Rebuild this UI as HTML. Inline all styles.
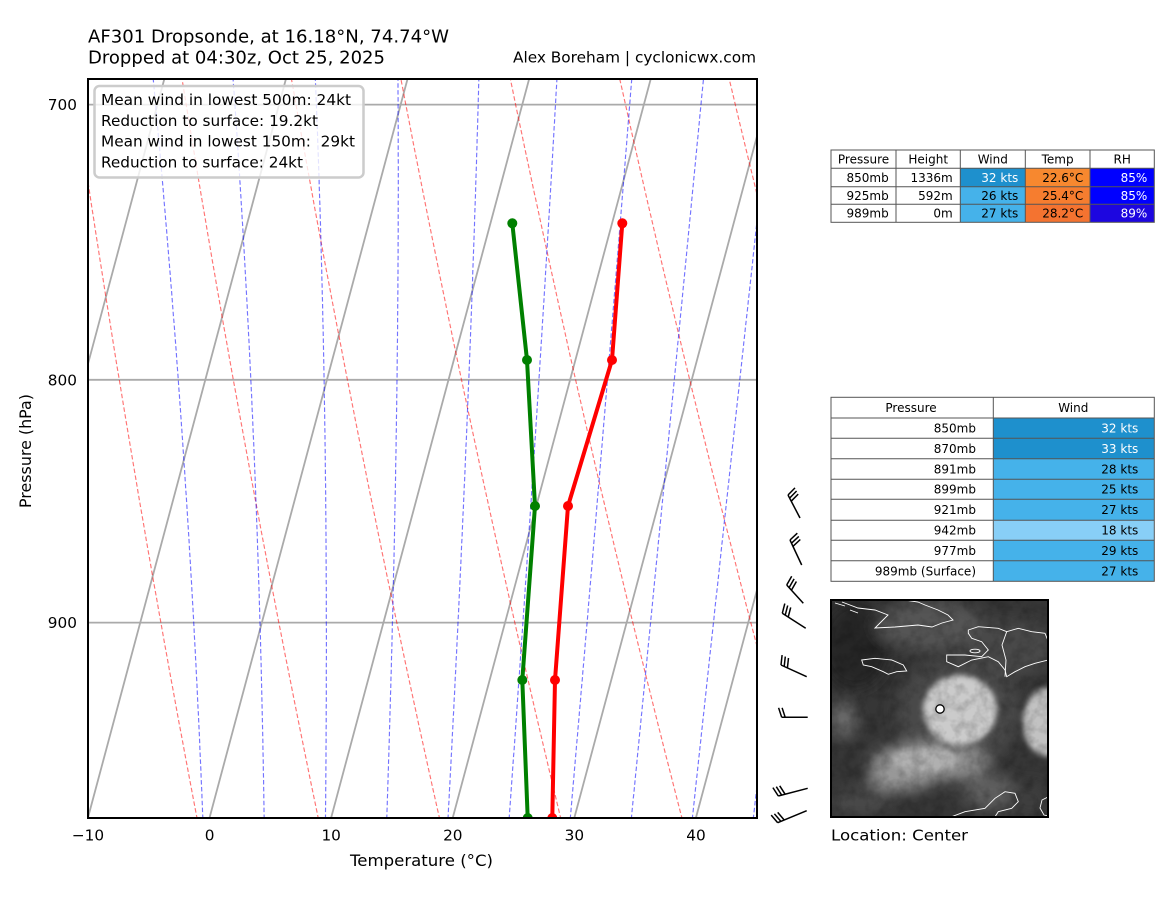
<!DOCTYPE html>
<html>
<head>
<meta charset="utf-8">
<style>
html,body{margin:0;padding:0;background:#fff;}
svg{display:block;}
text{font-family:"DejaVu Sans","Liberation Sans",sans-serif;fill:#000;}
</style>
</head>
<body>
<svg id="root" width="1174" height="897" viewBox="0 0 1174 897" xmlns="http://www.w3.org/2000/svg">
<defs>
<clipPath id="pc"><rect x="88" y="79" width="669" height="739"/></clipPath>
<clipPath id="sc"><rect x="831" y="600" width="217" height="217"/></clipPath>
<filter id="bl" x="-50%" y="-50%" width="200%" height="200%"><feGaussianBlur stdDeviation="7"/></filter>
<filter id="bl2" x="-50%" y="-50%" width="200%" height="200%"><feGaussianBlur stdDeviation="3"/></filter>
<filter id="noise" x="0" y="0" width="100%" height="100%">
  <feTurbulence type="fractalNoise" baseFrequency="0.09" numOctaves="3" seed="4"/>
  <feColorMatrix type="matrix" values="0 0 0 0 0  0 0 0 0 0  0 0 0 0 0  0 0 0 -1.6 1.0"/>
</filter>
</defs>
<rect width="1174" height="897" fill="#fff"/>

<!-- Titles -->
<text x="88" y="42.5" font-size="17.5" textLength="361" lengthAdjust="spacingAndGlyphs">AF301 Dropsonde, at 16.18°N, 74.74°W</text>
<text x="88" y="63.5" font-size="17.5" textLength="297" lengthAdjust="spacingAndGlyphs">Dropped at 04:30z, Oct 25, 2025</text>
<text x="756" y="62.5" font-size="15" text-anchor="end" textLength="243" lengthAdjust="spacingAndGlyphs">Alex Boreham | cyclonicwx.com</text>

<!-- Plot area -->
<g clip-path="url(#pc)">
  <g stroke="#aaaaaa" stroke-width="1.8" fill="none">
    <line x1="88" y1="104.6" x2="757" y2="104.6"/>
    <line x1="88" y1="379.8" x2="757" y2="379.8"/>
    <line x1="88" y1="622.6" x2="757" y2="622.6"/>
    <line x1="-35.6" y1="825" x2="166.2" y2="72"/>
    <line x1="86" y1="825" x2="287.8" y2="72"/>
    <line x1="207.6" y1="825" x2="409.4" y2="72"/>
    <line x1="329.2" y1="825" x2="531" y2="72"/>
    <line x1="450.8" y1="825" x2="652.6" y2="72"/>
    <line x1="572.4" y1="825" x2="774.2" y2="72"/>
    <line x1="694" y1="825" x2="895.8" y2="72"/>
  </g>
  <g id="bg"></g>
  <polyline points="622.3,223.3 612,360 568,506 555,680 552.3,818" fill="none" stroke="#ff0000" stroke-width="4" stroke-linejoin="round"/>
  <polyline points="512.3,223.3 527,360 535,506 522.3,680 527.7,818" fill="none" stroke="#008000" stroke-width="4" stroke-linejoin="round"/>
  <g fill="#ff0000">
    <circle cx="622.3" cy="223.3" r="5"/><circle cx="612" cy="360" r="5"/><circle cx="568" cy="506" r="5"/><circle cx="555" cy="680" r="5"/><circle cx="552.3" cy="818" r="5"/>
  </g>
  <g fill="#008000">
    <circle cx="512.3" cy="223.3" r="5"/><circle cx="527" cy="360" r="5"/><circle cx="535" cy="506" r="5"/><circle cx="522.3" cy="680" r="5"/><circle cx="527.7" cy="818" r="5"/>
  </g>
</g>

<!-- Legend box -->
<rect x="94.5" y="86" width="269" height="91.5" rx="5" ry="5" fill="#ffffff" fill-opacity="0.8" stroke="#cccccc" stroke-width="2.5"/>
<text x="101" y="105" font-size="15.3" textLength="250" lengthAdjust="spacingAndGlyphs">Mean wind in lowest 500m: 24kt</text>
<text x="101" y="126" font-size="15.3" textLength="217" lengthAdjust="spacingAndGlyphs">Reduction to surface: 19.2kt</text>
<text x="101" y="146.7" font-size="15.3" textLength="254" lengthAdjust="spacingAndGlyphs">Mean wind in lowest 150m: &#160;29kt</text>
<text x="101" y="167.7" font-size="15.3" textLength="202" lengthAdjust="spacingAndGlyphs">Reduction to surface: 24kt</text>

<!-- Frame -->
<rect x="88" y="79" width="669" height="739" fill="none" stroke="#000" stroke-width="2"/>

<!-- Tick labels -->
<g font-size="15.3">
  <text x="77" y="110.2" text-anchor="end">700</text>
  <text x="77" y="385.4" text-anchor="end">800</text>
  <text x="77" y="628.2" text-anchor="end">900</text>
  <text x="88" y="840.5" text-anchor="middle">−10</text>
  <text x="209.6" y="840.5" text-anchor="middle">0</text>
  <text x="331.2" y="840.5" text-anchor="middle">10</text>
  <text x="452.8" y="840.5" text-anchor="middle">20</text>
  <text x="574.4" y="840.5" text-anchor="middle">30</text>
  <text x="696" y="840.5" text-anchor="middle">40</text>
</g>
<text x="421.5" y="866" font-size="15.8" text-anchor="middle" textLength="143" lengthAdjust="spacingAndGlyphs">Temperature (°C)</text>
<text transform="translate(31,451) rotate(-90)" font-size="15.8" text-anchor="middle" textLength="114" lengthAdjust="spacingAndGlyphs">Pressure (hPa)</text>

<!-- Wind barbs -->
<g stroke="#000" stroke-width="1.5" fill="none" stroke-linecap="butt">
  <line x1="800" y1="518" x2="788" y2="495"/>
  <line x1="788" y1="495" x2="795" y2="487.9"/><line x1="789.6" y1="498.1" x2="796.6" y2="491"/><line x1="791.2" y1="501.2" x2="798.2" y2="494.1"/>
  <line x1="801.7" y1="565" x2="790" y2="540"/>
  <line x1="790" y1="540" x2="797.3" y2="533.2"/><line x1="791.5" y1="543.2" x2="798.8" y2="536.4"/><line x1="793" y1="546.3" x2="800.3" y2="539.5"/>
  <line x1="803.3" y1="603.3" x2="786.7" y2="585"/>
  <line x1="786.7" y1="585" x2="791.7" y2="576.3"/><line x1="789.1" y1="587.6" x2="794.1" y2="578.9"/><line x1="791.4" y1="590.2" x2="796.4" y2="581.5"/>
  <line x1="805.7" y1="628.3" x2="782.3" y2="613.3"/>
  <line x1="782.3" y1="613.3" x2="784.8" y2="603.6"/><line x1="785.2" y1="615.2" x2="787.7" y2="605.5"/><line x1="788.2" y1="617.1" x2="790.7" y2="607.4"/>
  <line x1="806.7" y1="676.7" x2="781" y2="665"/>
  <line x1="781" y1="665" x2="782.1" y2="655.1"/><line x1="784.2" y1="666.5" x2="785.3" y2="656.6"/><line x1="787.4" y1="667.9" x2="788.5" y2="658"/>
  <line x1="807.7" y1="717.3" x2="781.7" y2="717.3"/>
  <line x1="781.7" y1="717.3" x2="778.6" y2="707.8"/><line x1="785.2" y1="717.3" x2="782.1" y2="707.8"/>
  <line x1="807.7" y1="788.3" x2="778.3" y2="796"/>
  <line x1="778.3" y1="796" x2="772.9" y2="787.6"/><line x1="781.7" y1="795.1" x2="776.3" y2="786.7"/><line x1="785.1" y1="794.2" x2="779.7" y2="785.8"/>
  <line x1="806.7" y1="810.7" x2="777.7" y2="822.7"/>
  <line x1="777.7" y1="822.7" x2="771.2" y2="815.1"/><line x1="780.9" y1="821.4" x2="774.4" y2="813.8"/><line x1="784.2" y1="820" x2="777.7" y2="812.4"/>
</g>

<!-- Table 1 -->
<g>
  <rect x="960.3" y="168.3" width="65" height="18.4" fill="#1e90cd"/>
  <rect x="960.3" y="186.7" width="65" height="35.6" fill="#45b2ea"/>
  <rect x="1025.3" y="168.3" width="64.7" height="18.4" fill="#f7882f"/>
  <rect x="1025.3" y="186.7" width="64.7" height="17.6" fill="#f67d2f"/>
  <rect x="1025.3" y="204.3" width="64.7" height="18" fill="#f47330"/>
  <rect x="1090" y="168.3" width="64.3" height="36" fill="#0000ff"/>
  <rect x="1090" y="204.3" width="64.3" height="18" fill="#1d06e0"/>
  <g stroke="#555" stroke-width="1" fill="none">
    <rect x="831" y="150" width="323.3" height="72.3"/>
    <line x1="831" y1="168.3" x2="1154.3" y2="168.3"/>
    <line x1="831" y1="186.7" x2="1154.3" y2="186.7"/>
    <line x1="831" y1="204.3" x2="1154.3" y2="204.3"/>
    <line x1="896" y1="150" x2="896" y2="222.3"/>
    <line x1="960.3" y1="150" x2="960.3" y2="222.3"/>
    <line x1="1025.3" y1="150" x2="1025.3" y2="222.3"/>
    <line x1="1090" y1="150" x2="1090" y2="222.3"/>
  </g>
  <g font-size="12" text-anchor="middle">
    <text x="863.5" y="163.5">Pressure</text>
    <text x="928.2" y="163.5">Height</text>
    <text x="992.8" y="163.5">Wind</text>
    <text x="1057.6" y="163.5">Temp</text>
    <text x="1122.2" y="163.5">RH</text>
  </g>
  <g font-size="12" text-anchor="end">
    <text x="888.7" y="181.8">850mb</text>
    <text x="952.7" y="181.8">1336m</text>
    <text x="1018.3" y="181.8" style="fill:#fff">32 kts</text>
    <text x="1083.3" y="181.8">22.6°C</text>
    <text x="1147.3" y="181.8" style="fill:#fff">85%</text>
    <text x="888.7" y="199.8">925mb</text>
    <text x="952.7" y="199.8">592m</text>
    <text x="1018.3" y="199.8">26 kts</text>
    <text x="1083.3" y="199.8">25.4°C</text>
    <text x="1147.3" y="199.8" style="fill:#fff">85%</text>
    <text x="888.7" y="217.6">989mb</text>
    <text x="952.7" y="217.6">0m</text>
    <text x="1018.3" y="217.6">27 kts</text>
    <text x="1083.3" y="217.6">28.2°C</text>
    <text x="1147.3" y="217.6" style="fill:#fff">89%</text>
  </g>
</g>

<!-- Table 2 -->
<g>
  <rect x="993.3" y="418" width="161" height="40.7" fill="#1e90cd"/>
  <rect x="993.3" y="458.7" width="161" height="61.6" fill="#45b2ea"/>
  <rect x="993.3" y="520.3" width="161" height="20" fill="#88cff7"/>
  <rect x="993.3" y="540.3" width="161" height="41" fill="#45b2ea"/>
  <g stroke="#555" stroke-width="1" fill="none">
    <rect x="831" y="397.3" width="323.3" height="184"/>
    <line x1="831" y1="418" x2="1154.3" y2="418"/>
    <line x1="831" y1="438.3" x2="1154.3" y2="438.3"/>
    <line x1="831" y1="458.7" x2="1154.3" y2="458.7"/>
    <line x1="831" y1="479.3" x2="1154.3" y2="479.3"/>
    <line x1="831" y1="499.3" x2="1154.3" y2="499.3"/>
    <line x1="831" y1="520.3" x2="1154.3" y2="520.3"/>
    <line x1="831" y1="540.3" x2="1154.3" y2="540.3"/>
    <line x1="831" y1="560.7" x2="1154.3" y2="560.7"/>
    <line x1="993.3" y1="397.3" x2="993.3" y2="581.3"/>
  </g>
  <g font-size="12" text-anchor="middle">
    <text x="911" y="412">Pressure</text>
    <text x="1073.3" y="412">Wind</text>
  </g>
  <g font-size="12" text-anchor="end">
    <text x="976" y="432.5">850mb</text><text x="1138.3" y="432.5" style="fill:#fff">32 kts</text>
    <text x="976" y="452.8">870mb</text><text x="1138.3" y="452.8" style="fill:#fff">33 kts</text>
    <text x="976" y="473.3">891mb</text><text x="1138.3" y="473.3">28 kts</text>
    <text x="976" y="493.6">899mb</text><text x="1138.3" y="493.6">25 kts</text>
    <text x="976" y="514.1">921mb</text><text x="1138.3" y="514.1">27 kts</text>
    <text x="976" y="534.6">942mb</text><text x="1138.3" y="534.6">18 kts</text>
    <text x="976" y="554.8">977mb</text><text x="1138.3" y="554.8">29 kts</text>
    <text x="976" y="575.3">989mb (Surface)</text><text x="1138.3" y="575.3">27 kts</text>
  </g>
</g>

<!-- Satellite image -->
<g clip-path="url(#sc)">
  <rect x="831" y="600" width="217" height="217" fill="#363636"/>
  <g filter="url(#bl)">
    <ellipse cx="855" cy="645" rx="35" ry="45" fill="#262626"/>
    <ellipse cx="930" cy="625" rx="55" ry="25" fill="#555555"/>
    <ellipse cx="1010" cy="648" rx="45" ry="28" fill="#4a4a4a"/>
    <ellipse cx="958" cy="712" rx="62" ry="55" fill="#4a4a4a"/>
    <ellipse cx="843" cy="720" rx="14" ry="18" fill="#6a6a6a"/>
    <ellipse cx="930" cy="762" rx="60" ry="20" fill="#8e8e8e"/>
    <ellipse cx="900" cy="778" rx="32" ry="13" fill="#9a9a9a"/>
    <ellipse cx="990" cy="792" rx="28" ry="18" fill="#5e5e5e"/>
    <ellipse cx="860" cy="802" rx="30" ry="14" fill="#4a4a4a"/>
    <ellipse cx="1030" cy="800" rx="20" ry="18" fill="#3c3c3c"/>
  </g>
  <g filter="url(#bl2)">
    <ellipse cx="960" cy="710" rx="37" ry="35" fill="#cbcbcb"/>
    <ellipse cx="1046" cy="722" rx="23" ry="34" fill="#c2c2c2"/>
    <ellipse cx="925" cy="760" rx="33" ry="13" fill="#b0b0b0"/>
  </g>
  <rect x="831" y="600" width="217" height="217" filter="url(#noise)" opacity="0.25"/>
  <g fill="none" stroke="#ffffff" stroke-width="0.9">
    <path d="M842,602 L858,608 L875,610 L888,615 L875,628 L895,627 L918,625 L932,627 L942,623 L953,620 L948,615 L938,610 L925,605 L918,602 L905,600"/>
    <path d="M835,603 L845,606 M850,610 L858,613"/>
    <path d="M861.7,660 L875,658.3 L891.7,660 L903.3,665 L906.7,671 L896.7,671.7 L888.3,674.3 L883.3,671.7 L871.7,666.7 L863.3,665 Z"/>
    <path d="M968.3,630 L978.3,626.7 L998.3,628.3 L1006.7,631.7 L1018.3,628.3 L1031.7,631.7 L1045,633.3 L1047.7,640 L1048,660 L1035,663.3 L1025,666.7 L1015,671.7 L1006.7,676.7 L1005,670 L998.3,661.7 L988.3,656.7 L971.7,660 L958.3,666.7 L946.7,661.7 L946.7,655 L965,655 L981.7,656.7 L988.3,650 L981.7,641.7 L971.7,638.3 L968.3,633.3 Z"/>
    <path d="M1006.7,631.7 L1002,645 L1006,660 L1005,676.7"/>
    <ellipse cx="975" cy="651" rx="5" ry="1.8"/>
    <path d="M951.7,816.7 L965,811.7 L985,808.3 L995,798.3 L1005,791.7 L1015,793.3 L1018.3,801.7 L1011.7,808.3 L998.3,811.7 L995,816.7"/>
    <path d="M1048,797 L1042,800 L1040,808 L1044,815 L1048,816"/>
  </g>
  <circle cx="940" cy="709" r="4.2" fill="#ffffff" stroke="#000" stroke-width="1.3"/>
</g>
<rect x="831" y="600" width="217" height="217" fill="none" stroke="#000" stroke-width="2"/>
<text x="831" y="840.5" font-size="15.3" textLength="137" lengthAdjust="spacingAndGlyphs">Location: Center</text>
</svg>

<script>
(function(){
  var NS='http://www.w3.org/2000/svg';
  var g=document.getElementById('bg');
  function yp(p){return 104.6+2061*Math.log(p/700);}
  function xp(T,y){return 209.6+12.16*T+0.268*(817.5-y);}
  function add(d,color){
    var e=document.createElementNS(NS,'path');
    e.setAttribute('d',d);
    e.setAttribute('stroke',color);
    e.setAttribute('stroke-opacity','0.55');
    e.setAttribute('stroke-width','1.15');
    e.setAttribute('fill','none');
    e.setAttribute('stroke-dasharray','4.5 2.4');
    g.appendChild(e);
  }
  // dry adiabats
  for(var th=-30; th<=200; th+=10){
    var d='';
    for(var p=1000;p>=670;p-=5){
      var T=(th+273.15)*Math.pow(p/1000,0.2857)-273.15;
      var y=yp(p);
      var x=xp(T,y)-2.5;
      d+=(d?'L':'M')+x.toFixed(1)+' '+y.toFixed(1);
    }
    add(d,'#ff0000');
  }
  // moist adiabats
  var Rd=287.04749,Cp=1004.6662,Lv=2.50084e6,eps=0.6219569;
  function es(T){var c=T-273.15;return 6.112*Math.exp(17.67*c/(c+243.5));}
  function f(p,T){var e=es(T);var r=eps*e/(p-e);return (Rd*T+Lv*r)/(Cp+Lv*Lv*r*eps/(Rd*T*T))/p;}
  for(var t0=0;t0<=50;t0+=5){
    var T=t0+273.15, p=1000, h=-2;
    var d='M'+xp(t0,yp(p)).toFixed(1)+' '+yp(p).toFixed(1);
    while(p>670){
      var k1=f(p,T),k2=f(p+h/2,T+h/2*k1),k3=f(p+h/2,T+h/2*k2),k4=f(p+h,T+h*k3);
      T+=h/6*(k1+2*k2+2*k3+k4); p+=h;
      var y=yp(p);
      d+='L'+xp(T-273.15,y).toFixed(1)+' '+y.toFixed(1);
    }
    add(d,'#0000ff');
  }
})();
</script>
</body>
</html>
